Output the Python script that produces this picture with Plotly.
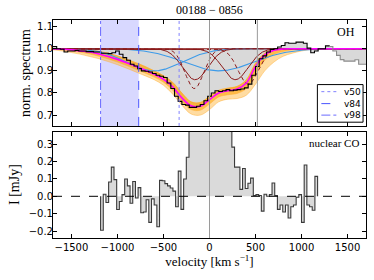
import numpy as np
import plotly.graph_objects as go

# ---------------- data ----------------
# OH spectrum (normalised), 40 km/s bins starting at -1700
oh_edge0 = -1700
oh_bin = 40
oh_flux = [1.01, 1.0, 0.998, 0.985, 0.99, 0.99, 0.992, 0.99, 0.99, 0.987,
           0.987, 0.985, 0.985, 0.98, 0.98, 0.978, 0.982, 0.99, 0.975, 0.96,
           0.948, 0.93, 0.922, 0.91, 0.90, 0.898, 0.895, 0.888, 0.88, 0.876,
           0.87, 0.845, 0.82, 0.785, 0.762, 0.748, 0.745, 0.735, 0.735, 0.74,
           0.748, 0.765, 0.785, 0.80, 0.81, 0.807, 0.81, 0.815, 0.81, 0.813,
           0.815, 0.818, 0.823, 0.84, 0.88, 0.92, 0.955, 0.968, 0.985, 0.997,
           1.0, 1.008, 1.015, 1.027, 1.025, 1.025, 1.03, 1.03, 1.025, 1.003,
           0.982, 0.99, 1.0, 1.0, 1.013]
# masked part of the OH spectrum (grey)
oh_masked = [1.01, 0.99, 0.97, 0.951, 0.944, 0.944, 0.944, 0.95, 0.93, 0.93]

# total model (magenta) sampled every 100 km/s
model_v = list(range(-1700, 1701, 100))
model_f = [1.0, 0.998, 0.995, 0.99, 0.985, 0.976, 0.965, 0.952, 0.937, 0.92,
           0.903, 0.885, 0.862, 0.828, 0.778, 0.742, 0.74, 0.77, 0.80, 0.81,
           0.818, 0.845, 0.92, 0.972, 0.993, 0.999, 1.0, 1.0, 1.0, 1.0,
           1.0, 1.0, 1.0, 1.0, 1.0]
# envelope of posterior model samples (orange)
samp_hi = [1.0, 1.0, 1.0, 0.998, 0.995, 0.988, 0.98, 0.968, 0.953, 0.937,
           0.92, 0.90, 0.878, 0.848, 0.80, 0.76, 0.757, 0.785, 0.812, 0.822,
           0.83, 0.86, 0.935, 0.98, 0.997, 1.0, 1.0, 1.0, 1.0, 1.0,
           1.0, 1.0, 1.0, 1.0, 1.0]
samp_lo = [0.995, 0.99, 0.983, 0.975, 0.965, 0.955, 0.942, 0.928, 0.912, 0.895,
           0.878, 0.86, 0.835, 0.795, 0.745, 0.705, 0.70, 0.725, 0.76, 0.772,
           0.775, 0.79, 0.84, 0.90, 0.94, 0.966, 0.98, 0.99, 0.997, 1.0,
           1.0, 1.0, 1.0, 1.0, 1.0]
# denser core of the sample curves
core_lo = [0.998, 0.995, 0.99, 0.984, 0.976, 0.966, 0.954, 0.94, 0.924, 0.907,
           0.89, 0.872, 0.849, 0.813, 0.763, 0.725, 0.722, 0.75, 0.782, 0.792,
           0.798, 0.82, 0.89, 0.948, 0.975, 0.988, 0.995, 0.998, 1.0, 1.0,
           1.0, 1.0, 1.0, 1.0, 1.0]

# Gaussian components: centre [km/s], depth, sigma [km/s]
blue_c = [-600, 100]
blue_d = [0.10, 0.10]
blue_s = [300, 380]
red_c = [-157, 280]
red_d = [0.14, 0.14]
red_s = [137, 140]
redd_c = [-165, 420]
redd_d = [0.18, 0.16]
redd_s = [100, 110]

# outflow velocities
v50, v84, v98 = -330, -769, -1183
v_extra = 520

# nuclear CO spectrum, 29.1 km/s bins starting at -1183
co_edge0 = -1183
co_bin = 29.1
co_flux = [-0.195, 0.012, -0.036, 0.082, 0.168, 0.096, -0.076, -0.03, 0.01, 0.10,
           0.06, -0.04, 0.085, -0.01, 0.05, -0.095, -0.09, -0.02, -0.15, -0.015,
           -0.05, -0.175, 0.092, 0.09, 0.073, 0.06, 0.048, 0.03, -0.06, 0.145,
           -0.075, 0.10, 0.225, 0.45, 0.55, 0.7, 0.8, 0.9, 1.0, 1.0,
           0.95, 0.9, 0.85, 0.8, 0.7, 0.6, 0.55, 0.5, 0.45, 0.283,
           0.168, 0.168, 0.04, 0.16, 0.045, 0.075, 0.105, 0.005, 0.01, 0.005,
           -0.085, 0.012, 0.0, 0.01, 0.077, 0.005, -0.075, -0.05, -0.09, -0.05,
           -0.125, -0.06, -0.05, -0.005, 0.01, -0.15, 0.18, -0.05, -0.06, -0.08,
           0.115]

# ---------------- figure ----------------
SERIF = "Liberation Serif"
SANS = "DejaVu Sans"
XR = [-1700, 1700]

fig = go.Figure()

vv = np.linspace(XR[0], XR[1], 1361)

def gauss(c, d, s):
    return 1 - d * np.exp(-0.5 * ((vv - c) / s) ** 2)

def add(tr):
    tr.update(showlegend=False, hoverinfo="skip")
    fig.add_trace(tr)

# top-panel OH spectrum arrays
oh_all = oh_flux + oh_masked
oh_x = [oh_edge0 + oh_bin * i for i in range(len(oh_all) + 1)]
oh_y = oh_all + [oh_all[-1]]
n_main = len(oh_flux)

# grey fill between continuum and spectrum
add(go.Scatter(x=XR, y=[1, 1], mode="lines", line=dict(width=0), xaxis="x2", yaxis="y2"))
add(go.Scatter(x=oh_x, y=oh_y, mode="lines", line=dict(width=0, shape="hv"),
               fill="tonexty", fillcolor="#d9d9d9", xaxis="x2", yaxis="y2"))

# orange band of model samples
ORL = "rgba(255,170,40,0.55)"
add(go.Scatter(x=model_v, y=samp_hi, mode="lines", line=dict(color=ORL, width=0.8, shape="spline"),
               xaxis="x2", yaxis="y2"))
add(go.Scatter(x=model_v, y=samp_lo, mode="lines", line=dict(color=ORL, width=0.8, shape="spline"),
               fill="tonexty", fillcolor="rgba(255,185,70,0.5)", xaxis="x2", yaxis="y2"))
add(go.Scatter(x=model_v, y=samp_hi, mode="lines", line=dict(color=ORL, width=0.8, shape="spline"),
               xaxis="x2", yaxis="y2"))
add(go.Scatter(x=model_v, y=core_lo, mode="lines", line=dict(color=ORL, width=0.8, shape="spline"),
               fill="tonexty", fillcolor="rgba(255,160,0,0.55)", xaxis="x2", yaxis="y2"))

# continuum line
add(go.Scatter(x=XR, y=[1, 1], mode="lines", line=dict(color="#8b1a1a", width=1.2),
               xaxis="x2", yaxis="y2"))

for c, d, s in zip(blue_c, blue_d, blue_s):
    add(go.Scatter(x=vv, y=gauss(c, d, s), mode="lines", line=dict(color="#3d9be9", width=1.1),
                   xaxis="x2", yaxis="y2"))
for c, d, s in zip(red_c, red_d, red_s):
    add(go.Scatter(x=vv, y=gauss(c, d, s), mode="lines", line=dict(color="#8b1a1a", width=1.0),
                   xaxis="x2", yaxis="y2"))
for c, d, s in zip(redd_c, redd_d, redd_s):
    add(go.Scatter(x=vv, y=gauss(c, d, s), mode="lines",
                   line=dict(color="#8b1a1a", width=1.0, dash="4px,3px"), xaxis="x2", yaxis="y2"))

# total model
add(go.Scatter(x=model_v, y=model_f, mode="lines",
               line=dict(color="#ff00ff", width=1.6, shape="spline"), xaxis="x2", yaxis="y2"))

# spectrum lines
add(go.Scatter(x=oh_x[:n_main + 1], y=oh_y[:n_main + 1], mode="lines",
               line=dict(color="black", width=1.1, shape="hv"), xaxis="x2", yaxis="y2"))
add(go.Scatter(x=oh_x[n_main:], y=oh_y[n_main:], mode="lines",
               line=dict(color="#8c8c8c", width=1.1, shape="hv"), xaxis="x2", yaxis="y2"))

# bottom-panel CO spectrum
co_x = ([co_edge0] + [co_edge0 + co_bin * i for i in range(len(co_flux) + 1)]
        + [co_edge0 + co_bin * len(co_flux)])
co_y = [0] + co_flux + [co_flux[-1]] + [0]
add(go.Scatter(x=co_x, y=co_y, mode="lines", line=dict(color="#3a3a3a", width=1.1, shape="hv"),
               fill="tozeroy", fillcolor="#dadada", xaxis="x", yaxis="y"))

shapes = []
# blue shaded outflow region
shapes.append(dict(type="rect", xref="x2", yref="y2 domain", x0=v98, x1=v84, y0=0, y1=1,
                   fillcolor="rgba(60,60,255,0.2)", line=dict(width=0), layer="below"))
# vertical markers
shapes.append(dict(type="line", xref="x2", yref="y2 domain", x0=v50, x1=v50, y0=0, y1=1,
                   line=dict(color="#8080ff", width=1, dash="dot")))
shapes.append(dict(type="line", xref="x2", yref="y2 domain", x0=v84, x1=v84, y0=0, y1=1,
                   line=dict(color="#4a55ff", width=1, dash="dash")))
shapes.append(dict(type="line", xref="x2", yref="y2 domain", x0=v98, x1=v98, y0=0, y1=1,
                   line=dict(color="#6a6aff", width=1, dash="dashdot")))
for xv in (0, v_extra):
    shapes.append(dict(type="line", xref="x2", yref="y2 domain", x0=xv, x1=xv, y0=0, y1=1,
                       line=dict(color="#9a9a9a", width=1)))
shapes.append(dict(type="line", xref="x", yref="y domain", x0=0, x1=0, y0=0, y1=1,
                   line=dict(color="#9a9a9a", width=1)))
shapes.append(dict(type="line", xref="x domain", yref="y", x0=0, x1=1, y0=0, y1=0,
                   line=dict(color="black", width=1, dash="dash")))

# custom legend
shapes.append(dict(type="rect", xref="x2", yref="y2", x0=1172, x1=1668, y0=0.668, y1=0.838,
                   fillcolor="white", line=dict(color="black", width=1)))
leg = [("v50", 0.806, "#8080ff", "dot"), ("v84", 0.752, "#4a55ff", "dash"),
       ("v98", 0.700, "#6a6aff", "dashdot")]
annotations = []
for name, yy, col, dsh in leg:
    shapes.append(dict(type="line", xref="x2", yref="y2", x0=1215, x1=1395, y0=yy, y1=yy,
                       line=dict(color=col, width=1, dash=dsh)))
    annotations.append(dict(xref="x2", yref="y2", x=1440, y=yy, text=name, showarrow=False,
                            xanchor="left", yanchor="middle",
                            font=dict(family=SANS, size=9, color="black")))

annotations.append(dict(xref="paper", yref="paper", x=0.5, y=1.0, yshift=1, text="00188 − 0856",
                        showarrow=False, xanchor="center", yanchor="bottom",
                        font=dict(family=SERIF, size=12, color="black")))
annotations.append(dict(xref="x2 domain", yref="y2 domain", x=0.97, y=0.97, text="OH",
                        showarrow=False, xanchor="right", yanchor="top",
                        font=dict(family=SERIF, size=12, color="black")))
annotations.append(dict(xref="x domain", yref="y domain", x=0.985, y=0.97, text="nuclear CO",
                        showarrow=False, xanchor="right", yanchor="top",
                        font=dict(family=SERIF, size=11, color="black")))
# y-axis titles
annotations.append(dict(xref="paper", yref="paper", x=0, xshift=-27, y=0.757, text="norm. spectrum",
                        textangle=-90, showarrow=False, xanchor="center", yanchor="middle",
                        font=dict(family=SERIF, size=14, color="black")))
annotations.append(dict(xref="paper", yref="paper", x=0, xshift=-39, y=0.243, text="I [mJy]",
                        textangle=-90, showarrow=False, xanchor="center", yanchor="middle",
                        font=dict(family=SERIF, size=14, color="black")))

axis_common = dict(showline=True, linecolor="black", linewidth=1, mirror="ticks",
                   ticks="inside", ticklen=4, tickcolor="black", showgrid=False,
                   zeroline=False, automargin=False,
                   tickfont=dict(family=SANS, size=10, color="black"))

fig.update_layout(
    width=374, height=280,
    margin=dict(l=53, r=8, t=20, b=42),
    paper_bgcolor="white", plot_bgcolor="white",
    showlegend=False,
    xaxis=dict(domain=[0, 1], anchor="y", range=XR, tickvals=[-1500, -1000, -500, 0, 500, 1000, 1500],
               title=dict(text="velocity [km s<sup>−1</sup>]", standoff=4,
                          font=dict(family=SERIF, size=13, color="black")),
               **axis_common),
    yaxis=dict(domain=[0, 0.486], anchor="x", range=[-0.24, 0.37],
               tickvals=[-0.2, -0.1, 0.0, 0.1, 0.2, 0.3], tickformat=".1f",
               ticklabelstandoff=-3, **axis_common),
    xaxis2=dict(domain=[0, 1], anchor="y2", range=XR, matches="x", showticklabels=False,
                tickvals=[-1500, -1000, -500, 0, 500, 1000, 1500], **axis_common),
    yaxis2=dict(domain=[0.514, 1], anchor="x2", range=[0.651, 1.13],
                tickvals=[0.7, 0.8, 0.9, 1.0, 1.1], tickformat=".1f",
                ticklabelstandoff=-3, **axis_common),
    shapes=shapes,
    annotations=annotations,
)

# remove the browser's default 8px page margin so the figure sits at the window origin
fig.write_html("out.html", config={"displayModeBar": False},
               post_script="document.body.style.margin='0';")
